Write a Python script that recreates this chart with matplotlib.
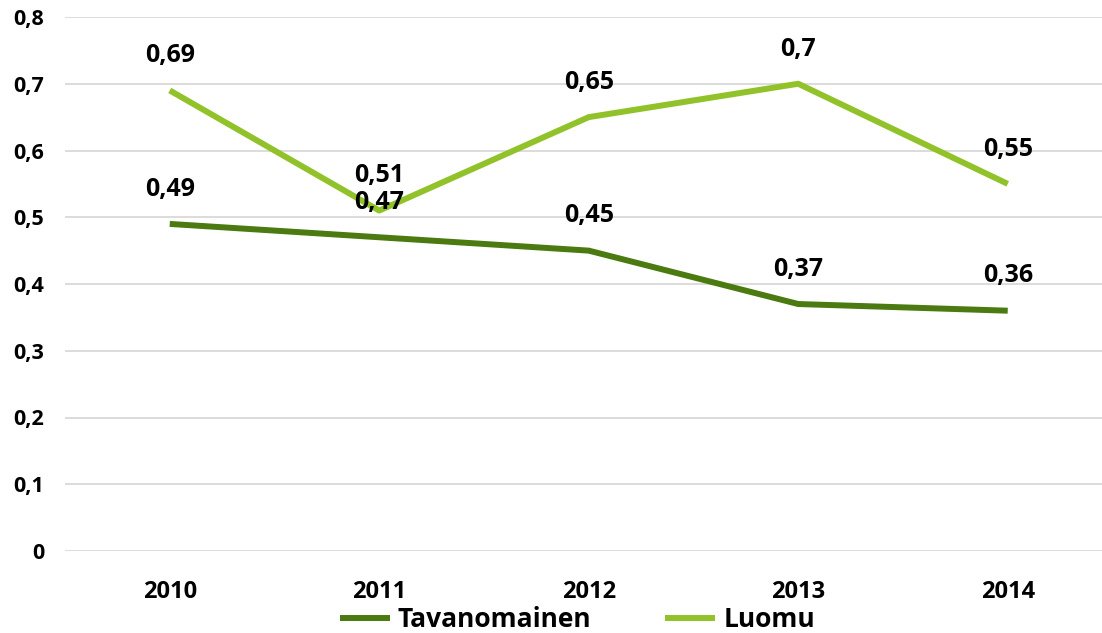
import numpy as np
import matplotlib
matplotlib.use("Agg")
import matplotlib.pyplot as plt

plt.rcParams['font.family'] = ['Open Sans', 'DejaVu Sans']
plt.rcParams['font.weight'] = 'bold'

# data
years = ["2010", "2011", "2012", "2013", "2014"]
tavanomainen = [0.49, 0.47, 0.45, 0.37, 0.36]
luomu = [0.69, 0.51, 0.65, 0.70, 0.55]
yticks = [0, 0.1, 0.2, 0.3, 0.4, 0.5, 0.6, 0.7, 0.8]

dark_green = "#4a7a10"
light_green = "#92c22a"

fig = plt.figure(figsize=[11.02, 6.33], dpi=100)
ax = fig.add_axes([65/1102, 82/633, 1 - 65/1102, 534/633])

x = np.arange(len(years))
ax.plot(x, tavanomainen, color=dark_green, lw=4.3, label="Tavanomainen", solid_capstyle="butt", zorder=3)
ax.plot(x, luomu, color=light_green, lw=4.3, label="Luomu", solid_capstyle="butt", zorder=3)

# value labels above points
for xs, ys in [(x, tavanomainen), (x, luomu)]:
    for xi, yi in zip(xs, ys):
        lab = f"{yi:g}".replace(".", ",")
        ax.annotate(lab, (xi, yi), xytext=(0, 25), textcoords="offset points",
                    ha="center", va="center", fontsize=18, fontweight="bold", zorder=4)

ax.set_xlim(-0.5, 4.45)
ax.set_ylim(0, 0.8)
ax.set_yticks(yticks)
ax.set_yticklabels([f"{v:g}".replace(".", ",") for v in yticks])
ax.set_xticks(x)
ax.set_xticklabels(years)
ax.grid(which="major", axis="y", color="#d9d9d9", lw=1.3, zorder=0)
ax.tick_params(axis="y", length=0, pad=15, labelsize=15.5)
ax.tick_params(axis="x", length=0, pad=21, labelsize=17)
for s in ax.spines.values():
    s.set_visible(False)

ax.legend(loc="center", bbox_to_anchor=(0.494, -0.129), ncol=2, frameon=False,
          fontsize=19, handlelength=1.9, columnspacing=2.8, handletextpad=0.3,
          borderaxespad=0, borderpad=0)

fig.savefig("out.png", dpi=100)
